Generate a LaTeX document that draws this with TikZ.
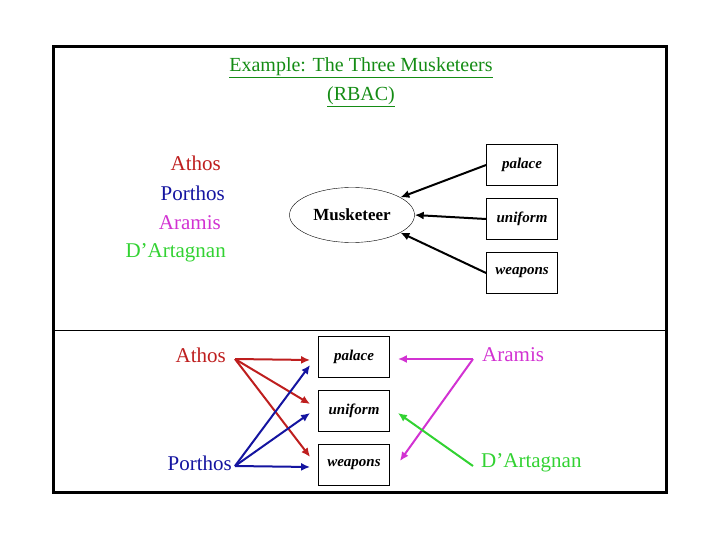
\documentclass[tikz,border=0pt]{standalone}
\usepackage{fontspec}
\setmainfont{Liberation Serif}
\usetikzlibrary{shapes.geometric,arrows.meta}
\definecolor{cath}{RGB}{190,30,30}
\definecolor{cpor}{RGB}{20,20,160}
\definecolor{cara}{RGB}{210,50,210}
\definecolor{cdar}{RGB}{50,210,50}
\definecolor{ctitle}{RGB}{20,140,20}
\begin{document}
\begin{tikzpicture}[x=1pt,y=-1pt,
  perm/.style={draw,thick,font=\bfseries\itshape\fontsize{15}{17}\selectfont,minimum width=71pt,minimum height=41pt,inner sep=0pt},
  musk/.style={font=\fontsize{21}{24}\selectfont,inner sep=0pt},
  arr/.style={-{Latex[length=9pt,width=8pt]},line width=2pt}]
\useasboundingbox (0,0) rectangle (720,540);
\draw[line width=3pt] (53,47) rectangle (666,492);
\draw[line width=0.8pt] (53,330) -- (666,330);
\node[font=\fontsize{20}{29}\selectfont,text=ctitle,align=center] (title) at (361,82)
  {\underline{Example: The Three Musketeers}\\\underline{(RBAC)}};
\node[musk,text=cath,anchor=east] (a1) at (221,163) {Athos};
\node[musk,text=cpor,anchor=east] (p1) at (225,193) {Porthos};
\node[musk,text=cara,anchor=east] (r1) at (221,223) {Aramis};
\node[musk,text=cdar,anchor=east] (d1) at (226,253) {D'Artagnan};
\node[draw,ellipse,minimum width=125pt,minimum height=55pt,font=\bfseries\fontsize{17}{20}\selectfont] (m) at (352,215) {Musketeer};
\node[perm] (tp) at (522,165) {palace};
\node[perm] (tu) at (522,219) {uniform};
\node[perm] (tw) at (522,273) {weapons};
\draw[arr] (tp.west) -- (m.20);
\draw[arr] (tu.west) -- (m.east);
\draw[arr] (tw.west) -- (m.-20);
\node[musk,text=cath,anchor=east] (a2) at (226,355) {Athos};
\node[musk,text=cpor,anchor=east] (p2) at (232,463) {Porthos};
\node[musk,text=cara,anchor=west] (r2) at (482,355) {Aramis};
\node[musk,text=cdar,anchor=west] (d2) at (481,463) {D'Artagnan};
\node[perm] (bp) at (354,357) {palace};
\node[perm] (bu) at (354,411) {uniform};
\node[perm] (bw) at (354,465) {weapons};
\coordinate (as) at (235,359);
\coordinate (ps) at (235,466);
\coordinate (rs) at (473,359);
\coordinate (ds) at (473,466);
\draw[arr,cath] (as) -- ([xshift=-8pt,yshift=-3pt]bp.west);
\draw[arr,cath] (as) -- ([xshift=-8pt,yshift=7pt]bu.west);
\draw[arr,cath] (as) -- ([xshift=-8pt,yshift=8pt]bw.west);
\draw[arr,cpor] (ps) -- ([xshift=-8pt,yshift=-8pt]bp.west);
\draw[arr,cpor] (ps) -- ([xshift=-8pt,yshift=-2pt]bu.west);
\draw[arr,cpor] (ps) -- ([xshift=-8pt,yshift=-2pt]bw.west);
\draw[arr,cara] (rs) -- ([xshift=8pt,yshift=-2pt]bp.east);
\draw[arr,cara] (rs) -- ([xshift=10pt,yshift=4pt]bw.east);
\draw[arr,cdar] (ds) -- ([xshift=8pt,yshift=-2pt]bu.east);
\end{tikzpicture}
\end{document}
